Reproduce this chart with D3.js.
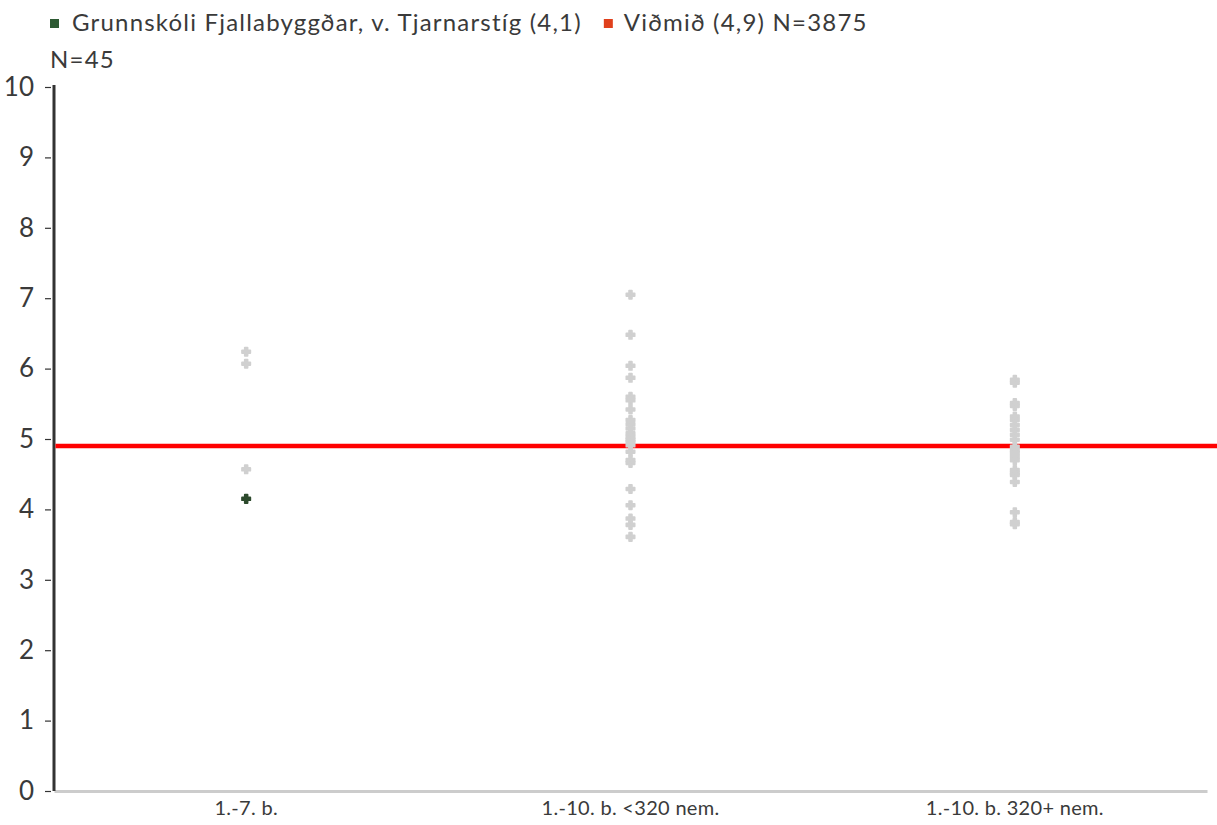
<!DOCTYPE html>
<html>
<head>
<meta charset="utf-8">
<script src="https://cdn.jsdelivr.net/npm/d3@7"></script>
<style>
  body { margin: 0; background: #fff; }
  text { font-family: Lato, "Open Sans", sans-serif; fill: #3a3a3a; }
</style>
</head>
<body>
<div id="chart"></div>
<script>
const categories = [`1.-7. b.`, `1.-10. b. <320 nem.`, `1.-10. b. 320+ nem.`];

// other schools, one list per category
const group1 = [6.24, 6.07, 4.57];
const group2 = [7.05, 6.48, 6.04, 5.87, 5.60, 5.55, 5.42, 5.27, 5.21, 5.15, 5.08, 5.03,
  4.99, 4.96, 4.91, 4.82, 4.70, 4.66, 4.29, 4.06, 3.87, 3.78, 3.61];
const group3 = [5.84, 5.80, 5.51, 5.47, 5.32, 5.27, 5.20, 5.13, 5.06, 4.99, 4.89, 4.84,
  4.80, 4.75, 4.70, 4.56, 4.52, 4.49, 4.39, 3.96, 3.82, 3.79];

const schoolCategory = `1.-7. b.`;
const schoolValue = 4.15;
const benchmark = 4.9;

const legendLabels = [`Grunnskóli Fjallabyggðar, v. Tjarnarstíg (4,1)`, `Viðmið (4,9) N=3875`];
const legendSub = `N=45`;
const yTicks = [0, 1, 2, 3, 4, 5, 6, 7, 8, 9, 10];

const width = 1217;
const height = 825;
const margin = { top: 87, right: 10, bottom: 34, left: 54 };

const svg = d3.select(`#chart`)
  .append(`svg`)
  .attr(`width`, width)
  .attr(`height`, height);

const xScale = d3.scaleBand()
  .domain(categories)
  .range([margin.left, width - margin.right]);

const yScale = d3.scaleLinear()
  .domain([0, 10])
  .range([height - margin.bottom, margin.top]);

// x axis: grey line, no ticks
const xAxis = svg.append(`g`)
  .attr(`transform`, `translate(0, ${yScale(0)})`)
  .call(d3.axisBottom(xScale).tickSize(0).tickPadding(10));
xAxis.select(`.domain`).attr(`stroke`, `#cccccc`).attr(`stroke-width`, 3);
xAxis.selectAll(`text`).style(`font-size`, `20px`).style(`letter-spacing`, `0.3px`);

// y axis
const yAxis = svg.append(`g`)
  .attr(`transform`, `translate(${margin.left}, 0)`)
  .call(d3.axisLeft(yScale).tickValues(yTicks).tickSize(6).tickPadding(14));
yAxis.select(`.domain`).attr(`stroke`, `#333`).attr(`stroke-width`, 3).attr(`d`, `M0,${yScale(0)}V${yScale(10) - 2}`);
yAxis.selectAll(`.tick line`).attr(`stroke`, `#333`).attr(`stroke-width`, 1.2).attr(`transform`, `translate(-3,0)`);
yAxis.selectAll(`text`).style(`font-size`, `26px`);

// benchmark line
svg.append(`line`)
  .attr(`x1`, margin.left + 1.5)
  .attr(`x2`, width)
  .attr(`y1`, yScale(benchmark))
  .attr(`y2`, yScale(benchmark))
  .attr(`stroke`, `#ff0000`)
  .attr(`stroke-width`, 4.5);

const groups = [group1, group2, group3];
const points = [];
groups.forEach((vals, i) => vals.forEach((v) => points.push({ cat: categories[i], value: v })));

const marker = d3.symbol().type(d3.symbolCross).size(38);
const xCenter = (c) => xScale(c) + xScale.bandwidth() / 2;

svg.append(`g`)
  .selectAll(`path`)
  .data(points)
  .enter()
  .append(`path`)
  .attr(`d`, marker)
  .attr(`transform`, (d) => `translate(${xCenter(d.cat)}, ${yScale(d.value)})`)
  .attr(`fill`, `#d0d0d0`)
  .attr(`stroke`, `#d0d0d0`)
  .attr(`stroke-width`, 1.8)
  .attr(`stroke-linejoin`, `round`);

svg.append(`path`)
  .attr(`d`, marker)
  .attr(`transform`, `translate(${xCenter(schoolCategory)}, ${yScale(schoolValue)})`)
  .attr(`fill`, `#2d4a2d`)
  .attr(`stroke`, `#2d4a2d`)
  .attr(`stroke-width`, 1.8)
  .attr(`stroke-linejoin`, `round`);

// legend
const legend = svg.append(`g`).attr(`transform`, `translate(50, 0)`);
legend.append(`rect`).attr(`x`, 0).attr(`y`, 19).attr(`width`, 9).attr(`height`, 9).attr(`fill`, `#2d5a33`);
const t1 = legend.append(`text`).attr(`x`, 22).attr(`y`, 31)
  .style(`font-size`, `24px`).style(`letter-spacing`, `1.2px`).text(legendLabels[0]);
const w1 = t1.node().getComputedTextLength();
legend.append(`rect`).attr(`x`, 22 + w1 + 22).attr(`y`, 19).attr(`width`, 9).attr(`height`, 9).attr(`fill`, `#e0401c`);
legend.append(`text`).attr(`x`, 22 + w1 + 42).attr(`y`, 31)
  .style(`font-size`, `24px`).style(`letter-spacing`, `1.2px`).text(legendLabels[1]);
legend.append(`text`).attr(`x`, 0).attr(`y`, 68)
  .style(`font-size`, `24px`).style(`letter-spacing`, `1.2px`).text(legendSub);
</script>
</body>
</html>
